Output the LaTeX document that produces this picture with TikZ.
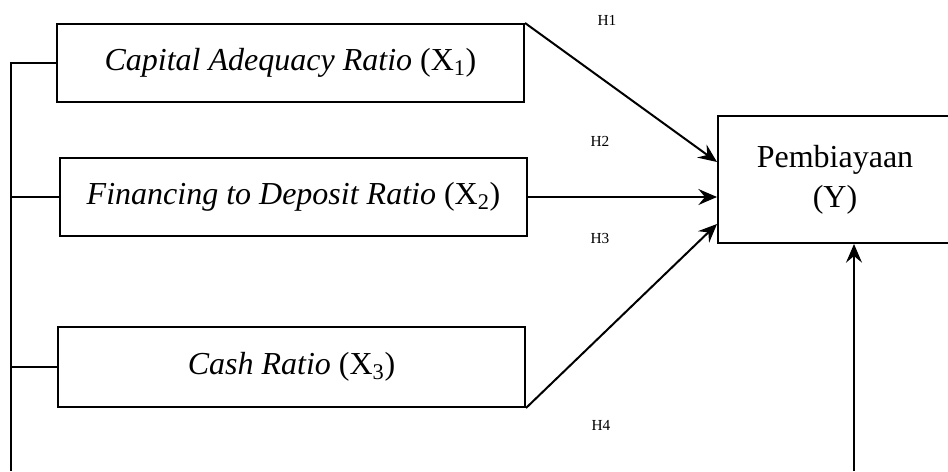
\documentclass[tikz,border=0pt]{standalone}
\usepackage{fontspec}
\setmainfont{Liberation Serif}
\usetikzlibrary{arrows.meta,calc,positioning}

\tikzset{
  var/.style={draw,line width=1.5pt,inner sep=0pt,minimum width=350.25pt,minimum height=58.5pt,font=\fontsize{24}{30}\selectfont},
  hyp/.style={font=\fontsize{11.5}{13}\selectfont},
  link/.style={line width=1.5pt,-{Stealth[length=14pt,width=12pt,inset=5pt]}}
}

\begin{document}
\begin{tikzpicture}[x=0.75pt,y=-0.75pt]
\useasboundingbox (0,0) rectangle (948,471);
\node[var] (car) at (290.5,63) {\textit{Capital Adequacy Ratio} (X\textsubscript{1})};
\node[var] (fdr) at (293.5,197) {\textit{Financing to Deposit Ratio} (X\textsubscript{2})};
\node[var,minimum height=60pt] (cr) at (291.5,367) {\textit{Cash Ratio} (X\textsubscript{3})};
\node[var,minimum width=175.5pt,minimum height=95.25pt,align=center] (y) at (835,179.5) {Pembiayaan\\(Y)};
\node[hyp] (h1) at (607,20) {H1};
\node[hyp] (h2) at (600,141) {H2};
\node[hyp] (h3) at (600,238) {H3};
\node[hyp] (h4) at (601,425) {H4};
\coordinate (rail) at (11,471);
\coordinate (bot) at (854,471);
\draw[line width=1.3pt] (car.west) -| (rail)
      (fdr.west) -- (fdr.west -| rail)
      (cr.west) -- (cr.west -| rail);
\draw[link] (car.north east) -- ($(y.west)+(0,-17.5)$);
\draw[link] (fdr.east) -- (fdr.east -| y.west);
\draw[link] (cr.south east) -- ($(y.west)+(0,44.5)$);
\draw[link,line width=1pt] (bot) -- (bot |- y.south);
\end{tikzpicture}
\end{document}
